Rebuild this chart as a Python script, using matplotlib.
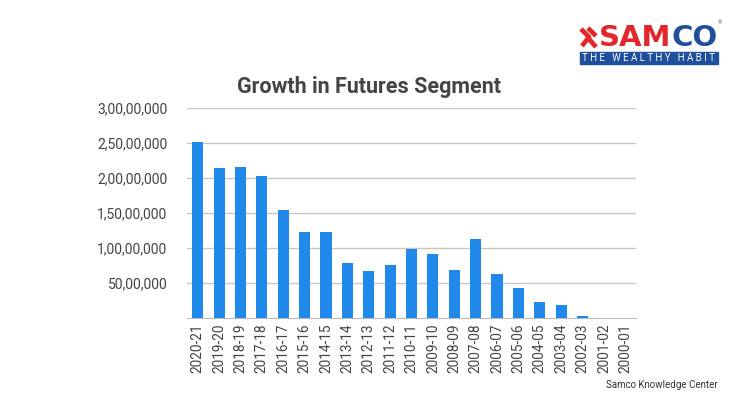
import matplotlib
matplotlib.use("Agg")
import matplotlib.pyplot as plt
import matplotlib.patches as mpatches
from matplotlib.ticker import FuncFormatter

BAR_COLOUR = '#2189EA'
TEXT_COLOUR = '#444444'
GRID_COLOUR = '#C8C8C8'

years = ['2020-21', '2019-20', '2018-19', '2017-18', '2016-17', '2015-16',
         '2014-15', '2013-14', '2012-13', '2011-12', '2010-11', '2009-10',
         '2008-09', '2007-08', '2006-07', '2005-06', '2004-05', '2003-04',
         '2002-03', '2001-02', '2000-01']
contracts = [25140000, 21470000, 21610000, 20290000, 15430000, 12290000,
             12290000, 7900000, 6760000, 7570000, 9810000, 9140000,
             6860000, 11290000, 6240000, 4240000, 2290000, 1900000,
             330000, 0, 0]
y_ticks = [5000000, 10000000, 15000000, 20000000, 25000000, 30000000]


def indian_format(v, pos=None):
    """
    Format a number with Indian digit grouping (lakh / crore)
    """
    s = str(int(round(v)))
    if len(s) <= 3:
        return s
    head, tail = s[:-3], s[-3:]
    groups = []
    while len(head) > 2:
        groups.insert(0, head[-2:])
        head = head[:-2]
    if head:
        groups.insert(0, head)
    return ",".join(groups) + "," + tail


plt.rcParams['font.family'] = ['Roboto', 'DejaVu Sans']

fig = plt.figure(figsize=(7.4, 4.0), dpi=100)
ax = fig.add_axes([187 / 740, 1 - 318 / 400, 449 / 740, 210 / 400])

x = range(len(years))
ax.bar(x, contracts, width=0.52, color=BAR_COLOUR, zorder=3)

ax.set_xlim(-0.5, len(years) - 0.5)
ax.set_ylim(0, 30000000)
ax.set_yticks(y_ticks)
ax.yaxis.set_major_formatter(FuncFormatter(indian_format))
ax.set_xticks(list(x))
ax.set_xticklabels(years, rotation=90)
ax.tick_params(axis='x', length=0, pad=4, labelsize=9.8, colors=TEXT_COLOUR)
ax.tick_params(axis='y', length=0, pad=14, labelsize=10, colors=TEXT_COLOUR)
ax.grid(axis='y', color=GRID_COLOUR, linewidth=1, zorder=0)
for side in ['top', 'right', 'left']:
    ax.spines[side].set_visible(False)
ax.spines['bottom'].set_color('#BBBBBB')

fig.text(369 / 740, 1 - 87 / 400, "Growth in Futures Segment",
         ha='center', va='center', fontsize=15.5, fontweight='bold',
         color=TEXT_COLOUR)
fig.text(718 / 740, 1 - 385 / 400, "Samco Knowledge Center",
         ha='right', va='center', fontsize=7, color='#333333')

# logo: red mark, SAMCO wordmark and blue strap line
red = '#E3262B'
blue = '#1F4E9C'
co = fig.text(718 / 740, 1 - 38 / 400, "CO", ha='right', va='center',
              fontsize=21, fontweight='bold', color=blue,
              family='DejaVu Sans')
fig.canvas.draw()
co_left = co.get_window_extent().x0 / 740
fig.text(co_left, 1 - 38 / 400, "SAM", ha='right', va='center',
         fontsize=21, fontweight='bold', color=red, family='DejaVu Sans')
fig.text(720 / 740, 1 - 23 / 400, "®", ha='center', va='center',
         fontsize=4, color='#555555')
mark = [[(581, 29), (589, 37), (582, 46)], [(588, 28), (596, 36)],
        [(589, 39), (596, 47)]]
for pts in mark:
    xs = [p[0] / 740 for p in pts]
    ys = [1 - p[1] / 400 for p in pts]
    fig.add_artist(plt.Line2D(xs, ys, color=red, linewidth=3.4,
                              solid_capstyle='butt'))
fig.add_artist(mpatches.Rectangle((580 / 740, 1 - 64 / 400), 138 / 740,
                                  12 / 400, color=blue,
                                  transform=fig.transFigure))
fig.text(649 / 740, 1 - 58 / 400, "T H E   W E A L T H Y   H A B I T",
         ha='center', va='center', fontsize=7, color='white')

fig.savefig("out.png", dpi=100)
